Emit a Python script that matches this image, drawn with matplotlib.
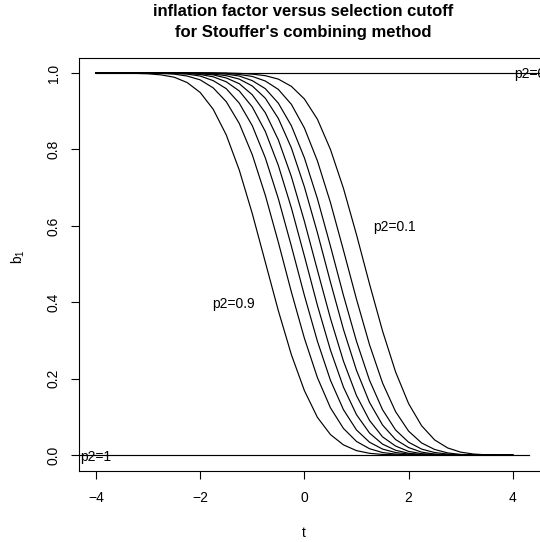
import matplotlib
matplotlib.use("Agg")
import matplotlib.pyplot as plt

plt.rcParams['font.family'] = ['Liberation Sans', 'DejaVu Sans']

# grid of t values (read at steps of 0.25)
t_vals = [-4.0, -3.75, -3.5, -3.25, -3.0, -2.75, -2.5, -2.25, -2.0, -1.75, -1.5,
          -1.25, -1.0, -0.75, -0.5, -0.25, 0.0, 0.25, 0.5, 0.75, 1.0, 1.25, 1.5,
          1.75, 2.0, 2.25, 2.5, 2.75, 3.0, 3.25, 3.5, 3.75, 4.0]

p2_levels = [0.9, 0.8, 0.7, 0.6, 0.5, 0.4, 0.3, 0.2, 0.1]

b1_p09 = [1.000, 1.000, 1.000, 0.999, 0.998, 0.995, 0.989, 0.975, 0.949, 0.905, 0.838,
          0.746, 0.632, 0.505, 0.378, 0.263, 0.169, 0.099, 0.054, 0.027, 0.012, 0.005,
          0.002, 0.001, 0.000, 0, 0, 0, 0, 0, 0, 0, 0]
b1_p08 = [1, 1, 1, 1, 1, 0.999, 0.997, 0.992, 0.982, 0.961, 0.925,
          0.868, 0.786, 0.680, 0.557, 0.427, 0.306, 0.203, 0.124, 0.070, 0.036, 0.017,
          0.007, 0.003, 0.001, 0, 0, 0, 0, 0, 0, 0, 0]
b1_p07 = [1, 1, 1, 1, 1, 1, 0.999, 0.997, 0.992, 0.980, 0.959,
          0.921, 0.862, 0.778, 0.671, 0.547, 0.418, 0.298, 0.196, 0.119, 0.066, 0.034,
          0.016, 0.007, 0.003, 0.001, 0, 0, 0, 0, 0, 0, 0]
b1_p06 = [1, 1, 1, 1, 1, 1, 1, 0.999, 0.996, 0.990, 0.977,
          0.953, 0.911, 0.847, 0.758, 0.647, 0.521, 0.392, 0.275, 0.178, 0.106, 0.058,
          0.029, 0.013, 0.005, 0.002, 0.001, 0, 0, 0, 0, 0, 0]
b1_p05 = [1, 1, 1, 1, 1, 1, 1, 0.999, 0.998, 0.995, 0.987,
          0.972, 0.943, 0.896, 0.825, 0.729, 0.612, 0.484, 0.358, 0.246, 0.156, 0.091,
          0.048, 0.024, 0.010, 0.004, 0.002, 0.001, 0, 0, 0, 0, 0]
b1_p04 = [1, 1, 1, 1, 1, 1, 1, 1, 0.999, 0.997, 0.993,
          0.984, 0.966, 0.934, 0.881, 0.804, 0.702, 0.582, 0.453, 0.329, 0.222, 0.138,
          0.079, 0.041, 0.020, 0.008, 0.003, 0.001, 0, 0, 0, 0, 0]
b1_p03 = [1, 1, 1, 1, 1, 1, 1, 1, 1, 0.999, 0.997,
          0.992, 0.980, 0.959, 0.921, 0.862, 0.778, 0.671, 0.547, 0.418, 0.298, 0.196,
          0.119, 0.066, 0.034, 0.016, 0.007, 0.003, 0.001, 0, 0, 0, 0]
b1_p02 = [1, 1, 1, 1, 1, 1, 1, 1, 1, 1, 0.999,
          0.996, 0.991, 0.979, 0.957, 0.918, 0.856, 0.770, 0.661, 0.536, 0.408, 0.289,
          0.189, 0.114, 0.063, 0.032, 0.015, 0.006, 0.002, 0.001, 0, 0, 0]
b1_p01 = [1, 1, 1, 1, 1, 1, 1, 1, 1, 1, 1,
          0.999, 0.997, 0.993, 0.984, 0.965, 0.932, 0.879, 0.800, 0.698, 0.577, 0.448,
          0.325, 0.218, 0.135, 0.077, 0.040, 0.019, 0.008, 0.003, 0.001, 0, 0]

curves = [b1_p09, b1_p08, b1_p07, b1_p06, b1_p05, b1_p04, b1_p03, b1_p02, b1_p01]

# limiting cases
p2_zero_x = [-4.0, 6.0]
p2_zero_y = [1.0, 1.0]
p2_one_x = [-5.0, 4.32]
p2_one_y = [0.0, 0.0]

xticks = [-4, -2, 0, 2, 4]
yticks = [0.0, 0.2, 0.4, 0.6, 0.8, 1.0]

W, H = 540, 542
fig = plt.figure(figsize=(W / 100, H / 100), dpi=100)

# axes geometry in pixels
px_per_unit = 52.1
x0_px = 304.4
left_px = x0_px - 4.32 * px_per_unit
right_px = 560.0
top_px, bot_px = 57.7, 470.5
ax = fig.add_axes([left_px / W, 1 - bot_px / H, (right_px - left_px) / W, (bot_px - top_px) / H])
ax.set_xlim(-4.32, (right_px - x0_px) / px_per_unit)
ax.set_ylim(-0.04, 1.04)

lw = 0.85
for vals in curves:
    ax.plot(t_vals, vals, color='black', lw=lw)
ax.plot(p2_zero_x, p2_zero_y, color='black', lw=lw)
ax.plot(p2_one_x, p2_one_y, color='black', lw=lw)

fs = 10
ax.text(-1.37, 0.40, 'p2=0.9', ha='center', va='center_baseline', fontsize=fs)
ax.text(1.72, 0.60, 'p2=0.1', ha='center', va='center_baseline', fontsize=fs)
ax.text(4.02, 1.0, 'p2=0', ha='left', va='center_baseline', fontsize=fs, clip_on=False)
ax.text(-4.31, 0.0, 'p2=1', ha='left', va='center_baseline', fontsize=fs)

ax.set_xticks(xticks)
ax.set_xticklabels([str(v).replace('-', '\u2212') for v in xticks])
ax.set_yticks(yticks)
ax.set_yticklabels(['%.1f' % v for v in yticks], rotation=90, va='center')
ax.tick_params(axis='both', direction='out', length=5.5, width=0.8, labelsize=fs)
ax.tick_params(axis='x', pad=9)
ax.tick_params(axis='y', pad=8)
for s in ['left', 'bottom', 'top', 'right']:
    ax.spines[s].set_linewidth(0.8)

fig.text(303 / W, 1 - 12 / H, 'inflation factor versus selection cutoff', ha='center',
         va='center', fontsize=12, fontweight='bold')
fig.text(303 / W, 1 - 32 / H, "for Stouffer's combining method", ha='center',
         va='center', fontsize=12, fontweight='bold')
fig.text(304 / W, 1 - 533 / H, 't', ha='center', va='center', fontsize=fs)
fig.text(18 / W, 1 - 257 / H, r'$\mathregular{b_1}$', ha='center', va='center',
         fontsize=fs, rotation=90)

fig.savefig('out.png', dpi=100)
